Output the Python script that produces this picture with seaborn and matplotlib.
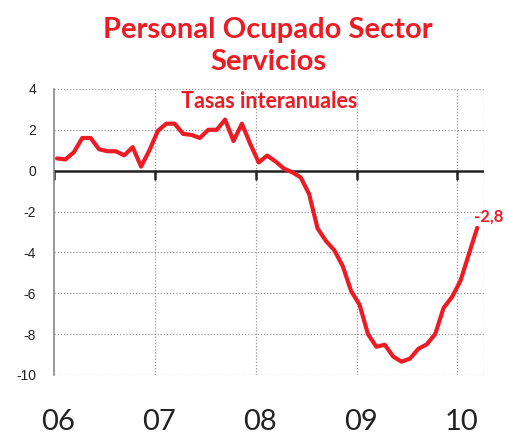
import numpy as np
import pandas as pd
import matplotlib.pyplot as plt
import matplotlib.transforms as mtransforms
import seaborn as sns

# monthly year-on-year rates, Jan 2006 - Mar 2010
values = [0.6, 0.55, 0.9, 1.6, 1.6, 1.05, 0.95, 0.95, 0.75, 1.15, 0.2, 1.0,
          1.95, 2.3, 2.3, 1.8, 1.75, 1.6, 2.0, 2.0, 2.5, 1.45, 2.3, 1.3,
          0.4, 0.74, 0.45, 0.1, -0.08, -0.33, -1.15, -2.82, -3.44, -3.9, -4.67, -5.9,
          -6.56, -8.0, -8.62, -8.52, -9.1, -9.35, -9.2, -8.72, -8.5, -8.0, -6.72, -6.18,
          -5.4, -4.1, -2.8]
year_labels = ["06", "07", "08", "09", "10"]
last_label = "-2,8"

red = "#ED1C24"
df = pd.DataFrame({"mes": np.arange(len(values)), "tasa": values})

sns.set_style("white")
plt.rcParams["font.family"] = ["Liberation Sans", "DejaVu Sans"]

fig = plt.figure(figsize=(5.07, 4.36), dpi=100)
ax = fig.add_axes([0.1065, 0.14, 0.848, 0.656])

year_pos = [12 * k - 0.36 for k in range(len(year_labels))]

grid_kw = dict(color="#999999", lw=0.9, ls=(0, (1, 1.5)), zorder=0)
for y in range(-10, 5, 2):
    ax.axhline(y, **grid_kw)
for xp in year_pos[1:]:
    ax.axvline(xp, **grid_kw)
ax.axvline(50.8, **grid_kw)

# x axis at zero with year tick marks
ax.axhline(0, color="#222222", lw=1.8, zorder=1)
for xp in year_pos:
    ax.plot([xp, xp], [0, -0.4], color="#222222", lw=1.8, zorder=1)

sns.lineplot(data=df, x="mes", y="tasa", color=red, lw=3, ax=ax, zorder=3)

ax.set_xlim(-0.36, 50.8)
ax.set_ylim(-10, 4)
ax.set_yticks(range(-10, 5, 2))
ax.set_yticklabels([str(v) for v in range(-10, 5, 2)], fontsize=10, color="#222222")
ax.tick_params(axis="y", length=0, pad=13)
ax.set_xticks([])
ax.set_xlabel("")
ax.set_ylabel("")
for s in ["top", "right", "bottom"]:
    ax.spines[s].set_visible(False)
ax.spines["left"].set_color("#888888")
ax.spines["left"].set_linewidth(1.2)

trans = mtransforms.blended_transform_factory(ax.transData, ax.transAxes)
for xp, lab in zip(year_pos, year_labels):
    ax.text(xp + 0.5, -0.165, lab, transform=trans, ha="center", va="center",
            fontsize=21, color="#222222", family=["Lato", "DejaVu Sans"])

ax.annotate(last_label, (df["mes"].iloc[-1], df["tasa"].iloc[-1]),
            xytext=(8, 8), textcoords="offset points", ha="center", va="center",
            fontsize=12, fontweight="bold", color=red, family=["Lato", "DejaVu Sans"])

fig.text(0.529, 0.895, "Personal Ocupado Sector\nServicios", ha="center", va="center",
         fontsize=21, fontweight="bold", color=red, linespacing=1.3,
         family=["Lato", "DejaVu Sans"])
ax.text(0.5, 0.955, "Tasas interanuales", transform=ax.transAxes, ha="center",
        va="center", fontsize=15.5, fontweight="bold", color=red,
        family=["Lato", "DejaVu Sans"])

fig.savefig("out.png", dpi=100)
